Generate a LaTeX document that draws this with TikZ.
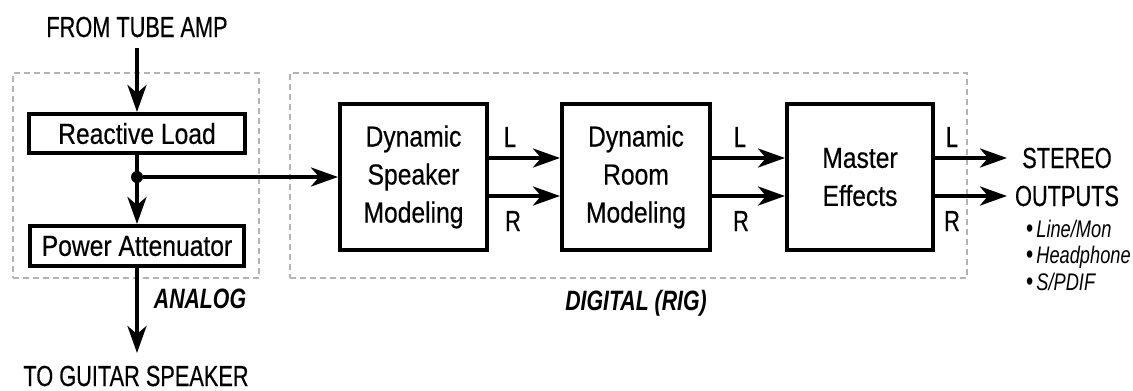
\documentclass[tikz,border=0pt]{standalone}
\usepackage{fontspec}
\setmainfont{Liberation Sans}[FakeStretch=0.85,FakeBold=0.4]
\newfontfamily\capsfont{Liberation Sans}[FakeStretch=0.75,FakeBold=0.4]
\newfontfamily\tagfont{Liberation Sans}[FakeStretch=0.76]
\usetikzlibrary{arrows.meta}
\definecolor{dashgray}{HTML}{B4B4B4}
\begin{document}
\begin{tikzpicture}[x=1pt,y=-1pt,
  blk/.style={draw, line width=4pt, inner sep=0pt, align=center, font=\fontsize{29}{38}\selectfont},
  arr/.style={line width=4pt, -{Stealth[length=27pt,width=19pt,inset=8pt]}},
  region/.style={draw=dashgray, line width=2pt, dash pattern=on 6pt off 4pt, inner sep=0pt},
  captext/.style={font=\capsfont\fontsize{29}{34}\selectfont, inner sep=0pt, anchor=base},
  tagtext/.style={font=\tagfont\bfseries\itshape\fontsize{28}{34}\selectfont, inner sep=0pt, anchor=base},
  bultext/.style={font=\tagfont\itshape\fontsize{24}{26}\selectfont, inner sep=0pt, anchor=base west},
  jdot/.style={circle, fill, inner sep=0pt, minimum size=12pt}
]
\useasboundingbox (0,0) rectangle (1133,391);
% dashed regions
\node[region, minimum width=246, minimum height=205] (analog) at (136,175.5) {};
\node[region, minimum width=677, minimum height=205] (digital) at (628.5,175.5) {};
% blocks
\node[blk, minimum width=216, minimum height=39] (rl) at (137,133.5) {Reactive Load};
\node[blk, minimum width=214, minimum height=40] (pa) at (137,246) {Power Attenuator};
\node[blk, minimum width=147, minimum height=146] (dsm) at (413.5,177) {Dynamic\\Speaker\\Modeling};
\node[blk, minimum width=148, minimum height=146] (drm) at (636,177) {Dynamic\\Room\\Modeling};
\node[blk, minimum width=146, minimum height=146] (me) at (860,177) {Master\\Effects};
% texts
\node[captext] (from) at (137,37) {FROM TUBE AMP};
\node[captext] (to) at (136,386) {TO GUITAR SPEAKER};
\node[tagtext] (alab) at (200,308) {ANALOG};
\node[tagtext] (dlab) at (636,310) {DIGITAL (RIG)};
\node[captext] (st) at (1067,168) {STEREO};
\node[captext] (op) at (1067,206) {OUTPUTS};
\node[bultext] (b1) at (1026,237) {{\upshape\fontsize{27}{26}\selectfont\textbullet}\hspace{3pt}Line/Mon};
\node[bultext] (b2) at (1026,263) {{\upshape\fontsize{27}{26}\selectfont\textbullet}\hspace{3pt}Headphone};
\node[bultext] (b3) at (1026,290) {{\upshape\fontsize{27}{26}\selectfont\textbullet}\hspace{3pt}S/PDIF};
\node[captext] (l1) at (510,147) {L};
\node[captext] (r1) at (513,231) {R};
\node[captext] (l2) at (740,147) {L};
\node[captext] (r2) at (741,231) {R};
\node[captext] (l3) at (952,147) {L};
\node[captext] (r3) at (952,231) {R};
% connectors
\coordinate (src) at (137,48);
\coordinate (dst) at (137,353);
\coordinate (oL) at (1007,158);
\coordinate (oR) at (1007,196);
\node[jdot] (j) at (137,177) {};
\draw[arr] (src) -- (rl.north);
\draw[arr] (rl.south) -- (pa.north);
\draw[arr] (j) -- (dsm.west);
\draw[arr] (pa.south) -- (dst);
\draw[arr] ([yshift=19pt]dsm.east) -- ([yshift=19pt]drm.west);
\draw[arr] ([yshift=-19pt]dsm.east) -- ([yshift=-19pt]drm.west);
\draw[arr] ([yshift=19pt]drm.east) -- ([yshift=19pt]me.west);
\draw[arr] ([yshift=-19pt]drm.east) -- ([yshift=-19pt]me.west);
\draw[arr] ([yshift=19pt]me.east) -- (oL);
\draw[arr] ([yshift=-19pt]me.east) -- (oR);
\end{tikzpicture}
\end{document}
